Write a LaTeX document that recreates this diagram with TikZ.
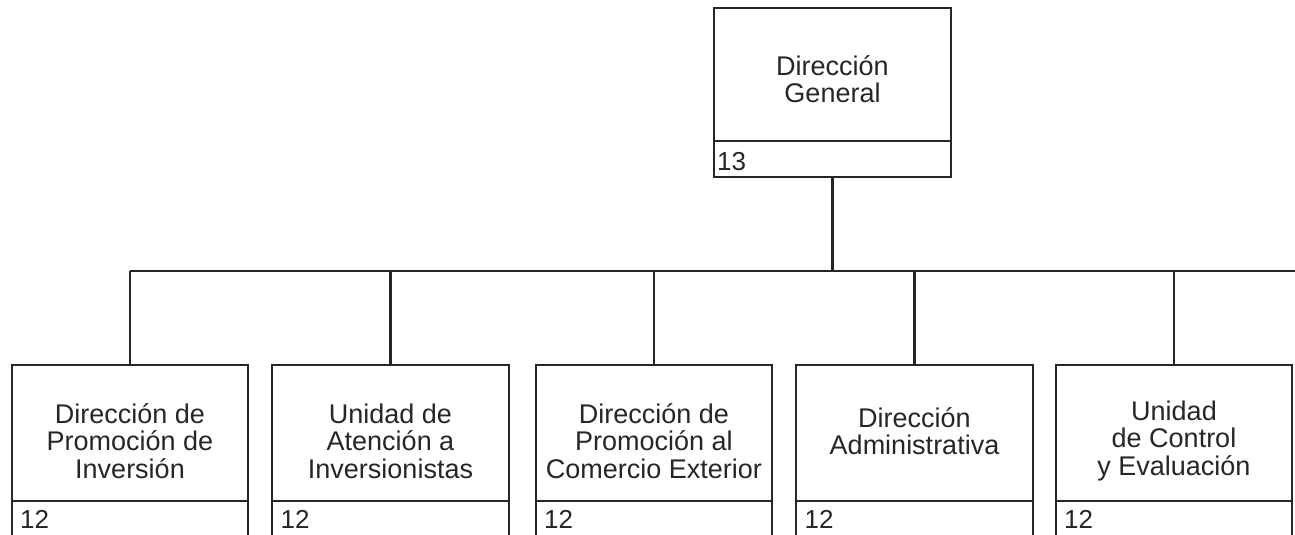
\documentclass[tikz,border=0pt]{standalone}
\usepackage{fontspec}
\setmainfont{Liberation Sans}
\definecolor{ink}{HTML}{262626}
\tikzset{
  box/.style={draw=ink, line width=2.2pt, rectangle, inner sep=0pt, minimum width=236.5pt},
  lbl/.style={text=ink, align=center, inner sep=0pt, font=\fontsize{27}{27.5}\selectfont},
  num/.style={text=ink, inner sep=0pt, anchor=base west, font=\fontsize{26}{27}\selectfont},
  conn/.style={draw=ink, line width=2.2pt},
}
\begin{document}
\begin{tikzpicture}[x=1pt,y=-1pt]
\useasboundingbox (0,0) rectangle (1295,535);
\clip (0,0) rectangle (1295,535);
% top box
\node[box, minimum width=237pt, minimum height=169pt] (top) at (832.5,92.5) {};
\draw[conn] (top.west |- 0,141) -- (top.east |- 0,141);
\node[lbl] (ttop) at (832.5,79) {Dirección\\General};
\node[num] (ntop) at (717,170) {13};
% bottom boxes
\foreach \i/\cx in {1/130,2/390.5,3/654,4/914.5,5/1174}{
  \node[box, minimum height=190pt] (b\i) at (\cx,460) {};
  \draw[conn] (b\i.west |- 0,501) -- (b\i.east |- 0,501);
}
\node[lbl] (t1) at (130,441) {Dirección de\\Promoción de\\Inversión};
\node[lbl] (t2) at (390.5,441) {Unidad de\\Atención a\\Inversionistas};
\node[lbl] (t3) at (654,441) {Dirección de\\Promoción al\\Comercio Exterior};
\node[lbl] (t4) at (914.5,431) {Dirección\\Administrativa};
\node[lbl] (t5) at (1174,441) {Unidad\\de Control\\y Evaluación};
\foreach \i/\x in {1/20,2/280.5,3/544,4/804.5,5/1064}{
  \node[num] (n\i) at (\x,528) {12};
}
% connectors
\coordinate (bus) at (0,271);
\coordinate (busR) at (1300,271);
\draw[conn] (top.south) -- (top.south |- bus);
\draw[conn] (b1.north |- bus) -- (busR);
\foreach \i in {1,...,5}{
  \draw[conn] (b\i.north |- bus) -- (b\i.north);
}
\end{tikzpicture}
\end{document}
